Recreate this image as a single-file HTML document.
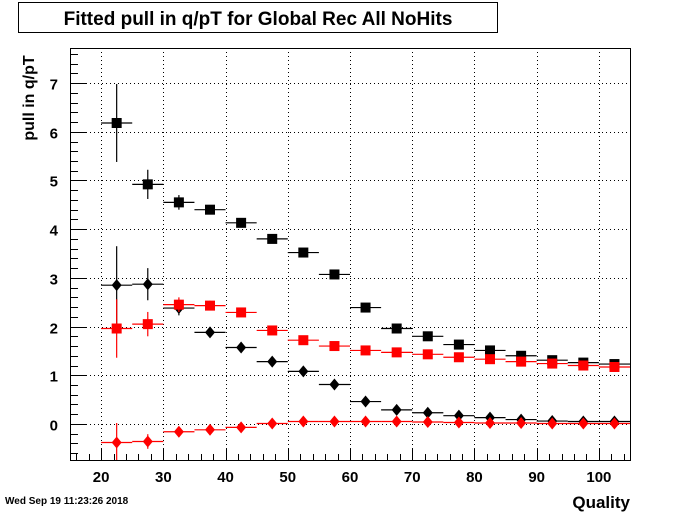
<!DOCTYPE html>
<html><head><meta charset="utf-8"><style>
body{margin:0;background:#fff;}
svg text{font-family:"Liberation Sans",sans-serif;font-weight:bold;}
</style></head><body>
<svg id="c" width="700" height="512" xmlns="http://www.w3.org/2000/svg">
<rect x="0" y="0" width="700" height="512" fill="#fff"/>
<rect x="18.5" y="2.5" width="479" height="30" fill="#fff" stroke="#000"/>
<text x="258" y="25" font-size="19" text-anchor="middle">Fitted pull in q/pT for Global Rec All NoHits</text>
<text transform="translate(34,98) rotate(-90)" font-size="16" text-anchor="middle">pull in q/pT</text>
<text x="630" y="508" font-size="17" text-anchor="end">Quality</text>
<text x="5" y="504" font-size="10">Wed Sep 19 11:23:26 2018</text>
<g id="plot"></g>
</svg>
<script>
const bins=[22.5,27.5,32.5,37.5,42.5,47.5,52.5,57.5,62.5,67.5,72.5,77.5,82.5,87.5,92.5,97.5,102.5];
const blackSq=[6.18,4.92,4.55,4.40,4.13,3.80,3.52,3.07,2.39,1.96,1.80,1.63,1.51,1.40,1.31,1.26,1.23];
const blackSqErr=[0.8,0.3,0.15,0.08,0.05,0.04,0.03,0.03,0.03,0.03,0.02,0.02,0.02,0.02,0.02,0.02,0.02];
const blackDi=[2.85,2.87,2.38,1.88,1.57,1.28,1.08,0.81,0.46,0.29,0.23,0.17,0.13,0.09,0.06,0.05,0.05];
const blackDiErr=[0.8,0.33,0.15,0.06,0.04,0.03,0.03,0.02,0.02,0.02,0.02,0.02,0.02,0.02,0.02,0.02,0.02];
const redSq=[1.96,2.05,2.45,2.43,2.29,1.92,1.72,1.60,1.51,1.47,1.43,1.37,1.33,1.28,1.24,1.20,1.17];
const redSqErr=[0.6,0.25,0.15,0.1,0.05,0.04,0.03,0.03,0.03,0.02,0.02,0.02,0.02,0.02,0.02,0.02,0.02];
const redDi=[-0.38,-0.36,-0.16,-0.12,-0.07,0.01,0.05,0.05,0.05,0.05,0.04,0.03,0.02,0.02,0.01,0.01,0.01];
const redDiErr=[0.4,0.15,0.05,0.04,0.03,0.02,0.02,0.02,0.02,0.02,0.02,0.02,0.02,0.02,0.02,0.02,0.02];
const xTicks=[20,30,40,50,60,70,80,90,100];
const yTicks=[0,1,2,3,4,5,6,7];

const L=70,R=630,T=48,B=460,XMIN=15,XMAX=105,YMIN=-0.74,YMAX=7.72;
const sx=v=>L+(v-XMIN)/(XMAX-XMIN)*(R-L);
const sy=v=>B-(v-YMIN)/(YMAX-YMIN)*(B-T);
const NS="http://www.w3.org/2000/svg";
const g=document.getElementById('plot');
function mk(tag,attrs,name){const e=document.createElementNS(NS,tag);for(const k in attrs)e.setAttribute(k,attrs[k]);


g.appendChild(e);return e;}
// frame
mk('rect',{x:L+0.5,y:T+0.5,width:R-L,height:B-T,fill:'none',stroke:'#000'},'plot-frame');
// grid + ticks
xTicks.forEach(t=>{const x=Math.round(sx(t))+0.5;
 mk('line',{x1:x,y1:T,x2:x,y2:B,stroke:'#000','stroke-dasharray':'1,3'},'x-grid-line');
 mk('line',{x1:x,y1:B,x2:x,y2:B-12,stroke:'#000'},'x-tick');
 const tx=mk('text',{x:sx(t),y:B+22,'font-size':15,'text-anchor':'middle'},'x-tick-label');tx.textContent=t;});
for(let v=16;v<=104;v+=2){if(v%10===0)continue;const x=Math.round(sx(v))+0.5;
 mk('line',{x1:x,y1:B,x2:x,y2:B-6,stroke:'#000'},'x-minor-tick');}
yTicks.forEach(t=>{const y=Math.round(sy(t))+0.5;
 mk('line',{x1:L,y1:y,x2:R,y2:y,stroke:'#000','stroke-dasharray':'1,3'},'y-grid-line');
 mk('line',{x1:L,y1:y,x2:L+16,y2:y,stroke:'#000'},'y-tick');
 const tx=mk('text',{x:L-12,y:y+6,'font-size':15,'text-anchor':'end'},'y-tick-label');tx.textContent=t;});
for(let v=-0.6;v<=7.7;v+=0.2){const r=Math.round(v*5);if(r%5===0)continue;const y=Math.round(sy(v))+0.5;
 mk('line',{x1:L,y1:y,x2:L+8,y2:y,stroke:'#000'},'y-minor-tick');}
function series(vals,errs,color,shape,name){
 bins.forEach((b,i)=>{const cx=sx(b),cy=sy(vals[i]);
  mk('line',{x1:sx(b-2.5),y1:cy,x2:sx(b+2.5),y2:cy,stroke:color,'stroke-width':1.2},name+'-xerr');
  mk('line',{x1:cx,y1:Math.min(sy(vals[i]-errs[i]),B),x2:cx,y2:sy(vals[i]+errs[i]),stroke:color,'stroke-width':1.2},name+'-yerr');
  if(shape==='sq')mk('rect',{x:cx-5,y:cy-5,width:10,height:10,fill:color},name+'-point');
  else mk('polygon',{points:`${cx},${cy-6} ${cx+5},${cy} ${cx},${cy+6} ${cx-5},${cy}`,fill:color},name+'-point');
 });}
series(blackSq,blackSqErr,'#000','sq','black-square');
series(blackDi,blackDiErr,'#000','di','black-diamond');
series(redSq,redSqErr,'#ff0000','sq','red-square');
series(redDi,redDiErr,'#ff0000','di','red-diamond');
</script>
</body></html>
